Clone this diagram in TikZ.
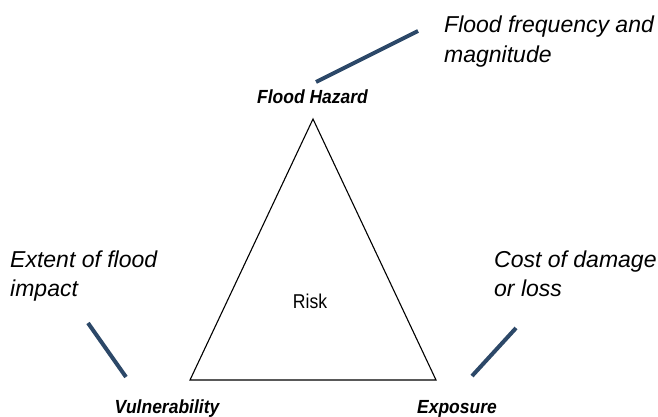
\documentclass[tikz,border=0pt]{standalone}
\usepackage{fontspec}
\setmainfont{Liberation Sans}
\newfontfamily\narrowsans[FakeStretch=0.92]{Liberation Sans}
\newfontfamily\narrowersans[FakeStretch=0.88]{Liberation Sans}
\begin{document}
\begin{tikzpicture}[x=1pt,y=-1pt,
  note/.style={anchor=base west,inner sep=0pt,font=\fontsize{23}{27}\selectfont\itshape},
  corner/.style={anchor=base,inner sep=0pt,font=\narrowsans\fontsize{19}{22}\selectfont\bfseries\itshape},
  tie/.style={line width=4pt,draw={rgb,255:red,44;green,72;blue,104}},
  edge/.style={line width=1.1pt,draw=black,line join=miter}]
\useasboundingbox (0,0) rectangle (658,416);
\fill[white] (0,0) rectangle (658,416);

% triangle corners
\coordinate (top) at (313,119);
\coordinate (bl) at (190,380);
\coordinate (br) at (436,380);
\draw[edge] (top) -- (bl) -- (br) -- cycle;

% corner labels
\node[corner] (hazard) at (312.5,103) {Flood Hazard};
\node[corner] (vuln) at (167,413) {Vulnerability};
\node[corner] (expo) at (457,413) {Exposure};
\node[anchor=base,inner sep=0pt,font=\narrowersans\fontsize{20}{24}\selectfont] (risk) at (310,308) {Risk};

% descriptions
\node[note] (freq1) at (444,32) {Flood frequency and};
\node[note] (freq2) at (444,62) {magnitude};
\node[note] (ext1) at (10,267) {Extent of flood};
\node[note] (ext2) at (10,296) {impact};
\node[note] (cost1) at (494,267) {Cost of damage};
\node[note] (cost2) at (494,296) {or loss};

% pointer lines
\coordinate (h1) at (316,82);
\coordinate (h2) at (418,31);
\coordinate (v1) at (88,323);
\coordinate (v2) at (126,377);
\coordinate (e1) at (472,376);
\coordinate (e2) at (516,328);
\draw[tie] (h1) -- (h2);
\draw[tie] (v1) -- (v2);
\draw[tie] (e1) -- (e2);
\end{tikzpicture}
\end{document}
